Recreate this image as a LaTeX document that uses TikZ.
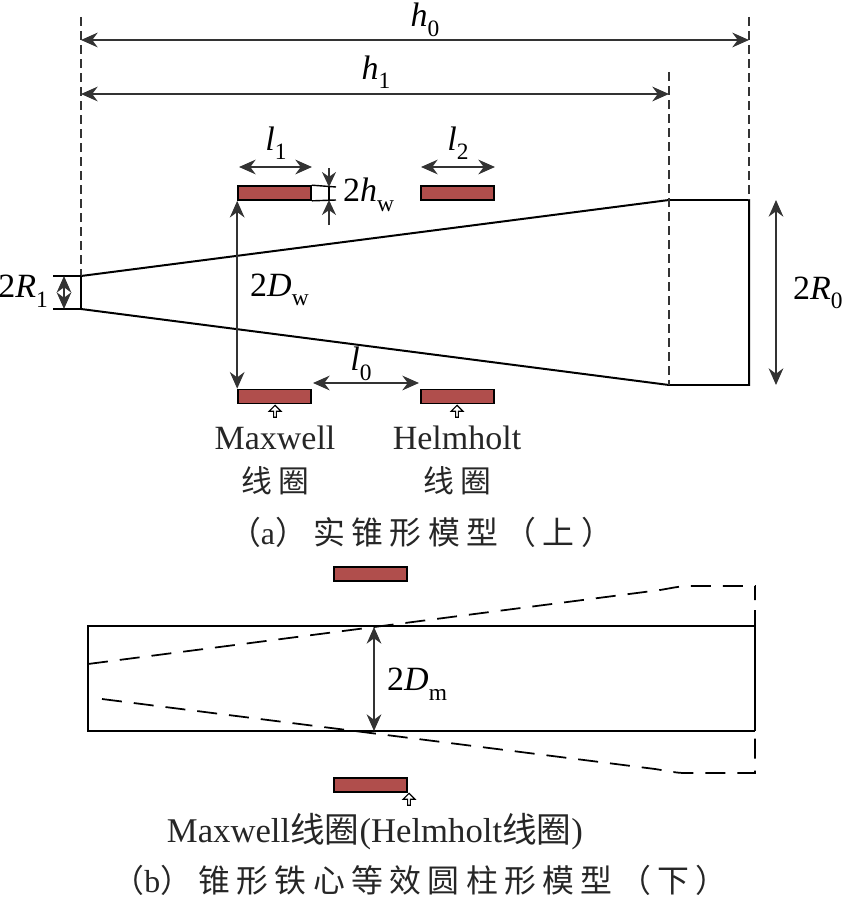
\documentclass[tikz,border=0pt]{standalone}
\usepackage{fontspec}
\setmainfont{Liberation Serif}
\newfontfamily\cjk[LetterSpace=20]{Noto Sans CJK SC}
\newfontfamily\cjktight{Noto Sans CJK SC}
\usetikzlibrary{arrows.meta,shapes.arrows}
\definecolor{coilred}{HTML}{B04E4C}
\definecolor{dimgrey}{HTML}{333333}
\newcommand{\symb}[2]{\textit{#1}\raisebox{-0.28em}{\fontsize{20}{20}\selectfont #2}}
\tikzset{
	coilbox/.style = {draw, line width=1.4pt, fill=coilred, minimum width=2.19cm, minimum height=0.42cm, inner sep=0pt},
	tagup/.style = {draw, line width=1pt, fill=white, single arrow, shape border rotate=90, minimum height=0.36cm, minimum width=0.36cm, single arrow head extend=0.06cm, inner sep=0pt},
	dimline/.style = {draw=dimgrey, line width=1.6pt, {Stealth[length=0.5cm,width=0.44cm]}-{Stealth[length=0.5cm,width=0.44cm]}},
	oneway/.style = {draw=dimgrey, line width=1.2pt, -{Stealth[length=0.45cm,width=0.42cm]}},
	tick/.style = {line width=1.2pt},
	guide/.style = {line width=1.1pt, dash pattern=on 0.27cm off 0.15cm, draw=dimgrey},
	ghost/.style = {line width=1.5pt, dash pattern=on 0.6cm off 0.36cm},
	outline/.style = {line width=1.7pt},
	sym/.style = {font=\fontsize{29}{29}\selectfont, inner sep=0pt},
	word/.style = {font=\fontsize{29}{29}\selectfont, text=black!85, inner sep=0pt},
	han/.style = {font=\fontsize{26.3}{26.3}\selectfont\cjk, text=black!85, inner sep=0pt},
	caption/.style = {font=\fontsize{27.2}{27.2}\selectfont\cjk, text=black!85, inner sep=0pt}
}
\begin{document}
\begin{tikzpicture}[x=0.03cm, y=-0.03cm]
	\useasboundingbox (0,0) rectangle (843,902);
	% cone, upper model
	\coordinate (coneTL) at (81,276);
	\coordinate (coneBL) at (81,309);
	\coordinate (neckT) at (669,200);
	\coordinate (neckB) at (669,385);
	\coordinate (endT) at (749,200);
	\coordinate (endB) at (749,385);
	\draw[outline] (coneTL) -- (neckT) -- (endT) -- (endB) -- (neckB) -- (coneBL) -- cycle;

	% guides
	\coordinate (guideA) at (81,17);
	\coordinate (guideB) at (669,72);
	\coordinate (guideC) at (749,17);
	\coordinate (markA) at (81,40);
	\coordinate (markB) at (749,40);
	\coordinate (markC) at (81,94);
	\coordinate (markD) at (669,94);
	\draw[guide] (guideA) -- (coneTL);
	\draw[guide] (guideB) -- (neckB);
	\draw[guide] (guideC) -- (endT);
	\draw[dimline] (markA) -- (markB);
	\draw[dimline] (markC) -- (markD);
	\node[sym] (hzero) at (425,20) {\symb{h}{0}};
	\node[sym] (hone) at (376,72) {\symb{h}{1}};

	% coils
	\node[coilbox] (coilA) at (274.5,193) {};
	\node[coilbox] (coilB) at (457.5,193) {};
	\node[coilbox] (coilC) at (274.5,396.5) {};
	\node[coilbox] (coilD) at (457.5,396.5) {};

	\coordinate (lonea) at (239,167);
	\coordinate (loneb) at (312,167);
	\coordinate (ltwoa) at (421,167);
	\coordinate (ltwob) at (495,167);
	\draw[dimline] (lonea) -- (loneb);
	\draw[dimline] (ltwoa) -- (ltwob);
	\node[sym] (lone) at (276,143) {\symb{l}{1}};
	\node[sym] (ltwo) at (458,143) {\symb{l}{2}};

	% coil height
	\coordinate (hwa) at (336,187);
	\coordinate (hwb) at (336,200);
	\coordinate (hwc) at (329,168);
	\coordinate (hwd) at (329,187);
	\coordinate (hwe) at (329,225);
	\coordinate (hwf) at (329,200);
	\draw[tick] (coilA.north east) -- (hwa);
	\draw[tick] (coilA.south east) -- (hwb);
	\draw[tick] (hwd) -- (hwf);
	\draw[oneway] (hwc) -- (hwd);
	\draw[oneway] (hwe) -- (hwf);
	\node[sym, anchor=west] (hwlabel) at (343,195) {2\symb{h}{w}};

	\draw[dimline] (coilA.south west) -- (coilC.north west);
	\node[sym, anchor=west] (dwlabel) at (250,290) {2\symb{D}{w}};
	\coordinate (lzeroa) at (313,383);
	\coordinate (lzerob) at (419,383);
	\draw[dimline] (lzeroa) -- (lzerob);
	\node[sym] (lzero) at (361,364) {\symb{l}{0}};

	% end radii
	\coordinate (rtop) at (53,276);
	\coordinate (rbot) at (53,309);
	\coordinate (rarrowa) at (64,276);
	\coordinate (rarrowb) at (64,309);
	\draw[tick] (rtop) -- (coneTL);
	\draw[tick] (rbot) -- (coneBL);
	\draw[dimline] (rarrowa) -- (rarrowb);
	\node[sym, anchor=east] (rone) at (48,291) {2\symb{R}{1}};
	\coordinate (rzeroa) at (776,200);
	\coordinate (rzerob) at (776,385);
	\draw[dimline] (rzeroa) -- (rzerob);
	\node[sym, anchor=west] (rzero) at (793,293) {2\symb{R}{0}};

	% labels, upper model
	\node[tagup] (tagA) at (275,412) {};
	\node[tagup] (tagB) at (457,412) {};
	\node[word] (maxw) at (275,438) {Maxwell};
	\node[word] (helm) at (457,438) {Helmholt};
	\node[han] (coilnameA) at (275,481) {线圈};
	\node[han] (coilnameB) at (457,481) {线圈};
	\node[caption] (capA) at (421,532) {（{\rmfamily a}）实锥形模型（上）};

	% lower model
	\node[coilbox] (coilE) at (370.5,574) {};
	\node[coilbox] (coilF) at (370.5,785) {};
	\coordinate (cylTL) at (88,626);
	\coordinate (cylTR) at (755,626);
	\coordinate (cylBL) at (88,731);
	\coordinate (cylBR) at (755,731);
	\draw[outline] (cylTR) -- (cylTL) -- (cylBL) -- (cylBR);
	\draw[outline] (cylTR) -- (cylBR);
	\coordinate (sideT) at (755,610);
	\draw[tick] (sideT) -- (cylTR);

	\coordinate (ghostA) at (88,664);
	\coordinate (ghostB) at (660,590);
	\coordinate (ghostC) at (690,586);
	\coordinate (ghostD) at (755,586);
	\coordinate (ghostE) at (755,600);
	\coordinate (ghostF) at (102,699);
	\coordinate (ghostG) at (655,769);
	\coordinate (ghostH) at (685,773);
	\coordinate (ghostI) at (755,773);
	\coordinate (ghostJ) at (755,738);
	\draw[ghost] (ghostA) -- (ghostB) .. controls (672,588) and (680,586) .. (ghostC) -- (ghostD) -- (ghostE);
	\draw[ghost] (ghostF) -- (ghostG) .. controls (668,771) and (676,773) .. (ghostH) -- (ghostI) -- (ghostJ);

	\coordinate (dma) at (374,627);
	\coordinate (dmb) at (374,731);
	\draw[dimline] (dma) -- (dmb);
	\node[sym, anchor=west] (dmlabel) at (387,684) {2\symb{D}{m}};
	\node[tagup] (tagC) at (409,800) {};
	\node[word, font=\fontsize{29.6}{29.6}\selectfont] (lowname) at (375,832) {Maxwell{\cjktight 线圈}(Helmholt{\cjktight 线圈})};
	\node[caption] (capB) at (420,880) {（{\rmfamily b}）锥形铁心等效圆柱形模型（下）};
\end{tikzpicture}
\end{document}
